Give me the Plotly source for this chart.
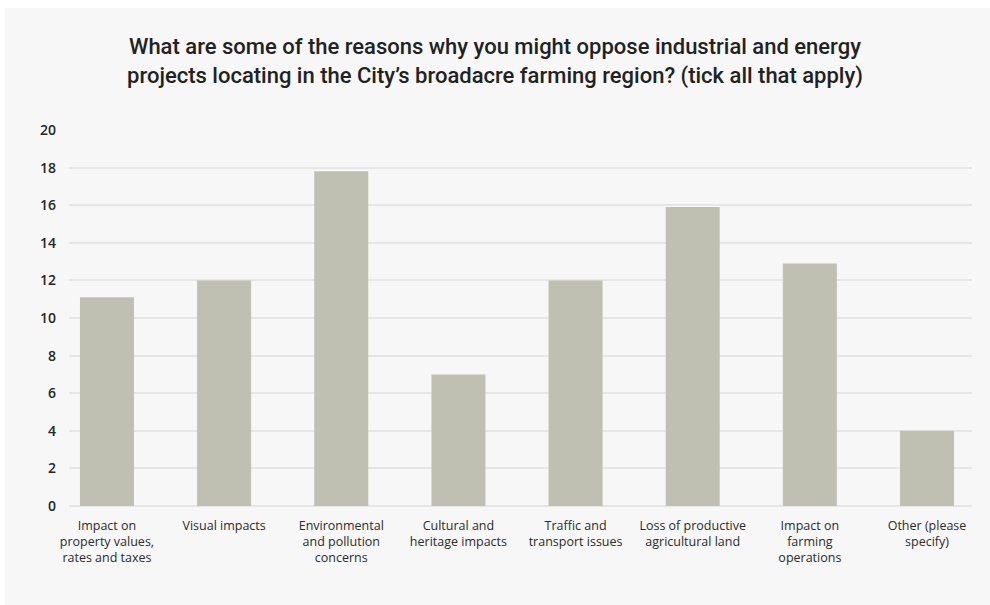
import plotly.graph_objects as go

# Survey responses: reasons for opposing industrial/energy projects
categories = [
    "Impact on<br>property values,<br>rates and taxes",
    "Visual impacts",
    "Environmental<br>and pollution<br>concerns",
    "Cultural and<br>heritage impacts",
    "Traffic and<br>transport issues",
    "Loss of productive<br>agricultural land",
    "Impact on<br>farming<br>operations",
    "Other (please<br>specify)",
]
responses = [11.1, 12, 17.8, 7, 12, 15.9, 12.9, 4]
y_ticks = [0, 2, 4, 6, 8, 10, 12, 14, 16, 18, 20]

W, H = 990, 605
L, R, T, B = 69, 18, 130, 99
plot_w = W - L - R
plot_h = H - T - B

positions = list(range(len(categories)))

fig = go.Figure(
    go.Bar(
        x=positions,
        y=responses,
        width=0.461,
        marker=dict(color="#bfc0b1", line=dict(width=0)),
        customdata=categories,
        hovertemplate="%{customdata}: %{y}<extra></extra>",
    )
)

# light grey card behind everything, leaving a thin white strip top/left
px0, py0 = 5, 8
fig.add_shape(
    type="rect",
    xref="paper", yref="paper",
    x0=(px0 - L) / plot_w, x1=(W - L) / plot_w + 0.01,
    y0=-(B + 2) / plot_h, y1=(H - B - py0) / plot_h,
    fillcolor="#f7f7f7", line=dict(width=0), layer="below",
)

fig.update_layout(
    width=W, height=H,
    margin=dict(l=L, r=R, t=T, b=B),
    paper_bgcolor="white",
    plot_bgcolor="rgba(0,0,0,0)",
    showlegend=False,
    title=dict(
        text="What are some of the reasons why you might oppose industrial and energy<br>"
             "projects locating in the City’s broadacre farming region? (tick all that apply)",
        x=0.5, xanchor="center", xref="container",
        y=1 - 54 / H, yanchor="middle", yref="container",
        font=dict(family="Roboto", size=22, color="#222222", weight=500),
    ),
    font=dict(family="Open Sans", color="#333333"),
)

fig.update_xaxes(
    range=[-0.324, 7.384],
    tickvals=positions, ticktext=categories,
    showgrid=False, showline=False, zeroline=False, ticks="",
    tickfont=dict(family="Open Sans", size=12.5, color="#2b2b2b", weight=500),
    ticklabelstandoff=10,
    fixedrange=True,
)
fig.update_yaxes(
    range=[0, 20], tickvals=y_ticks,
    showgrid=True, gridcolor="#e6e6e6", gridwidth=1.5,
    zeroline=True, zerolinecolor="#e6e6e6", zerolinewidth=1.5,
    showline=False, ticks="",
    tickfont=dict(family="Open Sans", size=14, color="#262626", weight=600),
    ticklabelstandoff=12,
    fixedrange=True,
)

fig.write_html("out.html")
